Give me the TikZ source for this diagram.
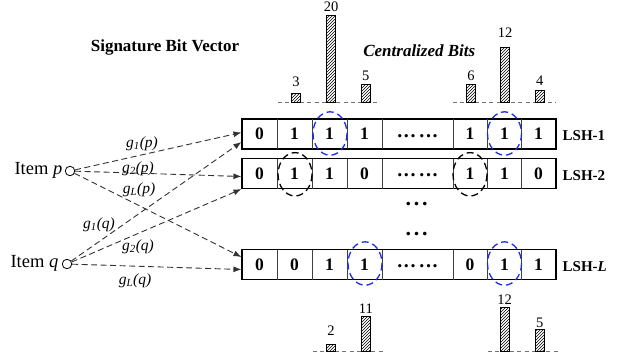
\documentclass[tikz,border=0pt]{standalone}
\usepackage{fontspec}
\setmainfont{Liberation Serif}
\usetikzlibrary{arrows.meta,patterns,calc}
\definecolor{ovblue}{RGB}{25,45,235}
\definecolor{lineg}{RGB}{50,50,50}
\begin{document}
\begin{tikzpicture}[x=1pt,y=-1pt,
  rowbox/.style={draw=black,line width=1.1pt,minimum width=314pt,minimum height=30pt,inner sep=0pt},
  divider/.style={draw=black!75,line width=0.8pt},
  bit/.style={font=\fontsize{17.5}{17.5}\selectfont\bfseries,inner sep=0pt},
  celldots/.style={font=\fontsize{20}{20}\selectfont\bfseries,inner sep=0pt},
  lshlab/.style={font=\fontsize{15}{15}\selectfont\bfseries,inner sep=0pt,anchor=base west},
  hashline/.style={draw=lineg,line width=0.9pt,dash pattern=on 6pt off 3.5pt,-{Latex[length=8pt,width=6pt]}},
  glab/.style={font=\fontsize{15.5}{15.5}\selectfont\itshape,inner sep=0pt},
  itemlab/.style={font=\fontsize{18.5}{18.5}\selectfont,inner sep=0pt,anchor=base east},
  itemdot/.style={circle,draw=black,line width=0.8pt,minimum size=9.5pt,inner sep=0pt},
  blueov/.style={draw=ovblue,line width=1.3pt,dash pattern=on 7pt off 4pt},
  blackov/.style={draw=black,line width=1.3pt,dash pattern=on 7pt off 4pt},
  histbar/.style={draw=black,line width=0.8pt,pattern=north east lines},
  histbase/.style={draw=black!55,line width=0.9pt,dash pattern=on 4pt off 3.3pt},
  numlab/.style={font=\fontsize{14.5}{14.5}\selectfont,inner sep=0pt},
  vdots/.style={font=\fontsize{22}{22}\selectfont\bfseries,inner sep=0pt}
]
\useasboundingbox (0,0) rectangle (620,360);

% titles
\node[font=\fontsize{17}{17}\selectfont\bfseries,inner sep=0pt,anchor=base] (title) at (165,51) {Signature Bit Vector};
\node[font=\fontsize{17}{17}\selectfont\bfseries\itshape,inner sep=0pt,anchor=base] (cbits) at (419.3,56.7) {Centralized Bits};

% rows
\node[rowbox] (r1) at (399,134) {};
\node[rowbox] (r2) at (399,173.5) {};
\node[rowbox] (rL) at (399,264.5) {};

\foreach \yc in {134,173.5,264.5}{
  \foreach \x in {277,312,347,382,453,487,521.5}
    \draw[divider] (\x,\yc-15) -- (\x,\yc+15);
}

\foreach \x/\v [count=\i] in {259.5/0,294.5/1,329.5/1,364.5/1,470/1,504.5/1,538.5/1}
  \node[bit] (r1c\i) at (\x,134) {\v};
\foreach \x/\v [count=\i] in {259.5/0,294.5/1,329.5/1,364.5/0,470/1,504.5/1,538.5/0}
  \node[bit] (r2c\i) at (\x,173.5) {\v};
\foreach \x/\v [count=\i] in {259.5/0,294.5/0,329.5/1,364.5/1,470/0,504.5/1,538.5/1}
  \node[bit] (rLc\i) at (\x,264.5) {\v};

\node[celldots] (r1d) at (417.5,136) {.\kern1.7pt.\kern1.7pt.\kern3.6pt.\kern1.7pt.\kern1.7pt.};
\node[celldots] (r2d) at (417.5,175.5) {.\kern1.7pt.\kern1.7pt.\kern3.6pt.\kern1.7pt.\kern1.7pt.};
\node[celldots] (rLd) at (417.5,266.5) {.\kern1.7pt.\kern1.7pt.\kern3.6pt.\kern1.7pt.\kern1.7pt.};

\node[lshlab] (l1) at (562.5,140.5) {LSH-1};
\node[lshlab] (l2) at (562.5,180) {LSH-2};
\node[lshlab] (lL) at (562.5,271) {LSH-\textit{L}};

% vertical dots
\node[vdots] (vd1) at (416.7,204.3) {.\kern2.8pt.\kern2.8pt.};
\node[vdots] (vd2) at (416.7,234.3) {.\kern2.8pt.\kern2.8pt.};

% dashed ellipses
\draw[blueov] (330,133.5) ellipse [x radius=17, y radius=21.7];
\draw[blueov] (504.5,133.5) ellipse [x radius=17, y radius=21.7];
\draw[blackov] (295,174.3) ellipse [x radius=17, y radius=21.7];
\draw[blackov] (470,174.3) ellipse [x radius=17, y radius=21.7];
\draw[blueov] (365,263.5) ellipse [x radius=17, y radius=21.7];
\draw[blueov] (504.5,263.5) ellipse [x radius=17, y radius=21.7];

% items
\node[itemdot] (p) at (70,171) {};
\node[itemlab] (tp) at (62.5,174.5) {Item \textit{p}};
\node[itemdot] (q) at (67,264) {};
\node[itemlab] (tq) at (58.5,267) {Item \textit{q}};

% hash connectors
\draw[hashline] (p) -- ($(r1.west)+(0,-1.5)$);
\draw[hashline] (p) -- ($(r2.west)+(0,3)$);
\draw[hashline] (p) -- ($(rL.west)+(0,-7.5)$);
\draw[hashline] (q) -- ($(r1.west)+(0,8)$);
\draw[hashline] (q) -- (r2.south west);
\draw[hashline] (q) -- ($(rL.west)+(0,5)$);

\node[glab] (g1p) at (142,144) {g\textsubscript{1}(p)};
\node[glab] (g2p) at (138,169) {g\textsubscript{2}(p)};
\node[glab] (gLp) at (139,190) {g\textsubscript{L}(p)};
\node[glab] (g1q) at (99,225) {g\textsubscript{1}(q)};
\node[glab] (g2q) at (138,247) {g\textsubscript{2}(q)};
\node[glab] (gLq) at (135,281) {g\textsubscript{L}(q)};

% top histograms
\draw[histbase] (278,102.7) -- (380,102.7);
\draw[histbase] (452.7,102.7) -- (555,102.7);
\draw[histbar] (291.7,102.7) rectangle (300.3,93.7);
\draw[histbar] (326.7,102.7) rectangle (335.7,15.7);
\draw[histbar] (361.3,102.7) rectangle (370.3,84.7);
\draw[histbar] (466.7,102.7) rectangle (475.3,84.7);
\draw[histbar] (500.7,102.7) rectangle (509.7,47.3);
\draw[histbar] (535.3,102.7) rectangle (544.3,90);
\node[numlab] (n3) at (296,81.7) {3};
\node[numlab] (n20) at (331.2,7) {20};
\node[numlab] (n5) at (365.8,76) {5};
\node[numlab] (n6) at (471,76) {6};
\node[numlab] (n12) at (505.2,32.5) {12};
\node[numlab] (n4) at (539.8,80.5) {4};

% bottom histograms
\draw[histbase] (313,351) -- (383,351);
\draw[histbase] (488,351) -- (558,351);
\draw[histbar] (326.3,351) rectangle (335.7,344);
\draw[histbar] (361.3,351) rectangle (370.3,316);
\draw[histbar] (500,351) rectangle (509,307.3);
\draw[histbar] (535.3,351) rectangle (544.3,329.3);
\node[numlab] (b2) at (331,330.7) {2};
\node[numlab] (b11) at (365.8,308.3) {11};
\node[numlab] (b12) at (504.5,299.3) {12};
\node[numlab] (b5) at (539.8,322.7) {5};
\end{tikzpicture}
\end{document}
